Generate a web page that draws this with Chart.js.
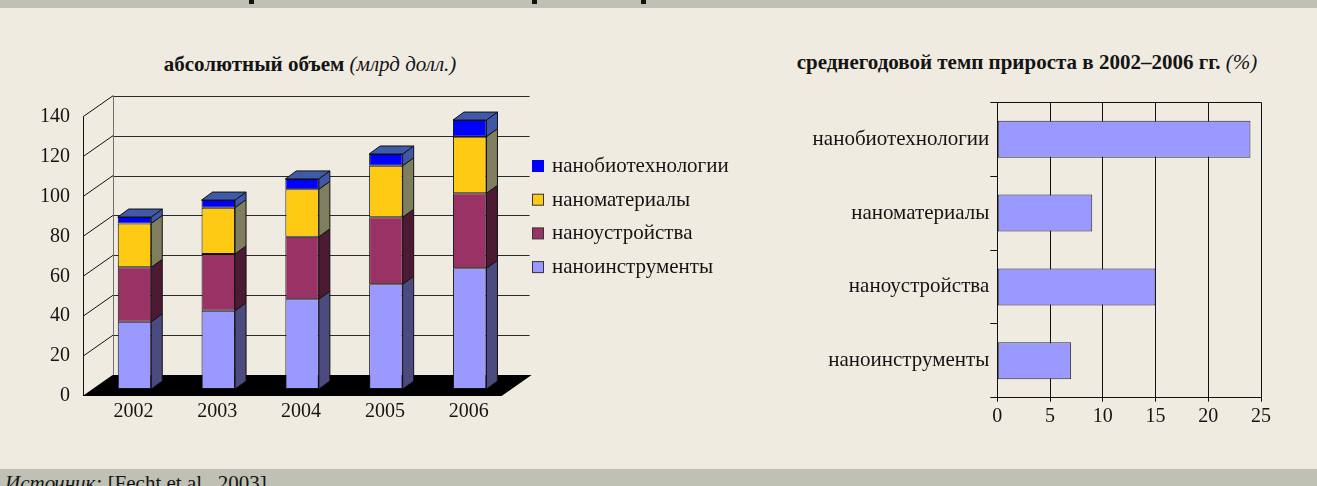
<!DOCTYPE html>
<html>
<head>
<meta charset="utf-8">
<script src="https://cdn.jsdelivr.net/npm/chart.js@4.4.1/dist/chart.umd.min.js"></script>
<style>
  html, body { margin: 0; padding: 0; }
  body { width: 1317px; height: 486px; background: #f0ebe1; position: relative; overflow: hidden; font-family: "Liberation Serif", serif; color: #141414; }
  .band { position: absolute; left: 0; width: 1317px; background: #bec1b3; }
  .bit { position: absolute; top: 0; width: 5px; height: 4px; background: #111; }
  .title { position: absolute; text-align: center; font-size: 21px; white-space: nowrap; line-height: 26px; }
  .title b { font-weight: bold; }
  canvas { position: absolute; top: 0; }
  #footer { position: absolute; left: 5px; top: 471px; font-size: 21px; line-height: 24px; white-space: nowrap; }
</style>
</head>
<body>
<div class="band" style="top:0;height:8px"></div>
<div class="bit" style="left:249px"></div>
<div class="bit" style="left:532px"></div>
<div class="bit" style="left:641px"></div>

<div class="title" style="left:10px;width:600px;top:51px"><b>абсолютный объем</b> <i>(млрд долл.)</i></div>
<div class="title" style="left:727px;width:600px;top:49px"><b>среднегодовой темп прироста в 2002–2006 гг.</b> <i>(%)</i></div>

<canvas id="left" width="760" height="486" style="left:0"></canvas>
<canvas id="right" width="557" height="486" style="left:760px"></canvas>

<div class="band" style="top:469px;height:17px"></div>
<div id="footer"><i>Источник:</i> [Fecht et al., 2003]</div>

<script>
// ---------- data ----------
const years = ['2002', '2003', '2004', '2005', '2006'];
const instruments = [33.7, 39.2, 45.0, 52.5, 60.5];
const devices = [27.3, 28.5, 31.3, 33.6, 37.6];
const materials = [22.0, 23.2, 23.8, 25.8, 28.4];
const biotech = [3.2, 3.8, 5.2, 5.9, 8.3];
const seriesNames = ['наноинструменты', 'наноустройства', 'наноматериалы', 'нанобиотехнологии'];
const volumeTicks = [0, 20, 40, 60, 80, 100, 120, 140];

const rateCategories = ['нанобиотехнологии', 'наноматериалы', 'наноустройства', 'наноинструменты'];
const rateValues = [24, 9, 15, 7];
const rateTicks = [0, 5, 10, 15, 20, 25];

// ---------- styles ----------
const FONT = '"Liberation Serif", serif';
const TEXT = '#141414';
const frontColors = ['#9999ff', '#993366', '#ffca14', '#0000ff'];
const sideColors = ['#4b4b80', '#4c1a33', '#7f7f60', '#3f57a6'];
const topColor = '#3f5aa8';
const legendBorders = ['#333', '#333', '#333', '#0000ff'];

// projection: bar plane is 1/3 of the depth behind the front plane
const FX = -10, FY = 7;     // bar plane -> front plane
const BX = 20, BY = -14;    // bar plane -> back wall
const BDX = 11, BDY = -8;   // bar depth

function poly(ctx, pts, fill, stroke) {
  ctx.beginPath();
  ctx.moveTo(pts[0][0], pts[0][1]);
  for (let i = 1; i < pts.length; i++) ctx.lineTo(pts[i][0], pts[i][1]);
  ctx.closePath();
  if (fill) { ctx.fillStyle = fill; ctx.fill(); }
  if (stroke) { ctx.strokeStyle = stroke; ctx.stroke(); }
}
function line(ctx, x1, y1, x2, y2) {
  ctx.beginPath(); ctx.moveTo(x1, y1); ctx.lineTo(x2, y2); ctx.stroke();
}

const depthPlugin = {
  id: 'depth3d',
  beforeDatasetsDraw(chart) {
    const { ctx, chartArea: a, scales: { x, y } } = chart;
    const y0 = y.getPixelForValue(0);
    const yTop = y.getPixelForValue(volumeTicks[volumeTicks.length - 1]);
    ctx.save();
    // floor
    poly(ctx, [[a.left + FX, y0 + FY], [a.right + FX, y0 + FY], [a.right + BX, y0 + BY], [a.left + BX, y0 + BY]], '#000');
    ctx.lineWidth = 1;
    volumeTicks.forEach(v => {
      if (v === 0) return;
      const py = y.getPixelForValue(v);
      const by = Math.round(py + BY) + 0.5;
      ctx.strokeStyle = '#2a2a2a';
      line(ctx, a.left + BX, by, a.right + BX - 2, by);
      ctx.strokeStyle = '#111';
      line(ctx, a.left + FX + 0.5, py + FY, a.left + BX + 0.5, py + BY);
    });
    // back wall left edge
    ctx.strokeStyle = '#707070';
    line(ctx, Math.round(a.left + BX) + 0.5, yTop + BY, Math.round(a.left + BX) + 0.5, y0 + BY);
    // front value axis
    ctx.strokeStyle = '#111';
    line(ctx, Math.round(a.left + FX) + 0.5, yTop + FY, Math.round(a.left + FX) + 0.5, y0 + FY);
    // value tick labels
    ctx.fillStyle = TEXT;
    ctx.font = '20px ' + FONT;
    ctx.textAlign = 'right';
    ctx.textBaseline = 'middle';
    volumeTicks.forEach(v => {
      ctx.fillText(String(v), a.left - 22.5, y.getPixelForValue(v) + FY);
    });
    // category labels
    ctx.textAlign = 'center';
    years.forEach((lab, i) => {
      ctx.fillText(lab, x.getPixelForValue(i) - 1, y0 + 23);
    });
    ctx.restore();
  },
  afterDatasetsDraw(chart) {
    const { ctx } = chart;
    const last = chart.data.datasets.length - 1;
    ctx.save();
    ctx.lineWidth = 1;
    ctx.lineJoin = 'round';
    chart.data.datasets.forEach((ds, di) => {
      const meta = chart.getDatasetMeta(di);
      meta.data.forEach(bar => {
        const p = bar.getProps(['x', 'y', 'base', 'width'], true);
        const l = p.x - p.width / 2, r = p.x + p.width / 2;
        const top = Math.min(p.y, p.base), bot = Math.max(p.y, p.base);
        poly(ctx, [[r, top], [r + BDX, top + BDY], [r + BDX, bot + BDY], [r, bot]], sideColors[di], '#111');
        if (di === last) {
          poly(ctx, [[l, top], [l + BDX, top + BDY], [r + BDX, top + BDY], [r, top]], topColor, '#111');
        }
      });
    });
    ctx.restore();
  },
  afterDraw(chart) {
    const { ctx } = chart;
    ctx.save();
    ctx.font = '21px ' + FONT;
    ctx.textAlign = 'left';
    ctx.textBaseline = 'middle';
    const n = chart.data.datasets.length;
    for (let k = 0; k < n; k++) {
      const di = n - 1 - k;
      const cy = 166.5 + k * 33.7;
      ctx.fillStyle = frontColors[di];
      ctx.fillRect(532.5, cy - 6, 11, 11);
      ctx.strokeStyle = legendBorders[di];
      ctx.lineWidth = 1;
      ctx.strokeRect(532.5, cy - 6, 11, 11);
      ctx.fillStyle = TEXT;
      ctx.fillText(chart.data.datasets[di].label, 552, cy);
    }
    ctx.restore();
  }
};

const seriesData = [instruments, devices, materials, biotech];

new Chart(document.getElementById('left'), {
  type: 'bar',
  data: {
    labels: years,
    datasets: seriesData.map((d, i) => ({
      label: seriesNames[i],
      data: d,
      backgroundColor: frontColors[i],
      borderColor: '#111',
      borderWidth: 1,
      borderSkipped: false,
      barPercentage: 0.4,
      categoryPercentage: 1.0
    }))
  },
  options: {
    responsive: false,
    animation: false,
    layout: { padding: { left: 92.6, right: 760 - 511.6, top: 109.7, bottom: 486 - 389 } },
    scales: {
      x: { stacked: true, display: false },
      y: { stacked: true, display: false, min: volumeTicks[0], max: volumeTicks[volumeTicks.length - 1], ticks: { stepSize: 20 } }
    },
    plugins: { legend: { display: false }, tooltip: { enabled: false }, title: { display: false } }
  },
  plugins: [depthPlugin]
});

new Chart(document.getElementById('right'), {
  type: 'bar',
  data: {
    labels: rateCategories,
    datasets: [{
      data: rateValues,
      backgroundColor: '#9999ff',
      borderColor: '#2a2a2a',
      borderWidth: 1,
      borderSkipped: false,
      barPercentage: 0.5,
      categoryPercentage: 1.0
    }]
  },
  options: {
    indexAxis: 'y',
    responsive: false,
    animation: false,
    layout: { padding: { left: 0, right: 56, top: 102.3, bottom: 48.3 } },
    scales: {
      x: {
        min: rateTicks[0], max: rateTicks[rateTicks.length - 1],
        ticks: { stepSize: 5, color: TEXT, font: { family: FONT, size: 20 }, padding: 3 },
        grid: { color: '#111', tickLength: 4, lineWidth: 1 },
        border: { color: '#111' },
        afterFit: s => { s.height = 40; }
      },
      y: {
        ticks: { color: TEXT, font: { family: FONT, size: 21 }, padding: 1 },
        grid: { color: c => (c.index === 0 ? '#111' : 'rgba(0,0,0,0)'), tickColor: '#111', tickLength: 7, offset: true },
        border: { color: '#111' },
        afterFit: s => { s.width = 237.3; }
      }
    },
    plugins: { legend: { display: false }, tooltip: { enabled: false } }
  }
});
</script>
</body>
</html>
